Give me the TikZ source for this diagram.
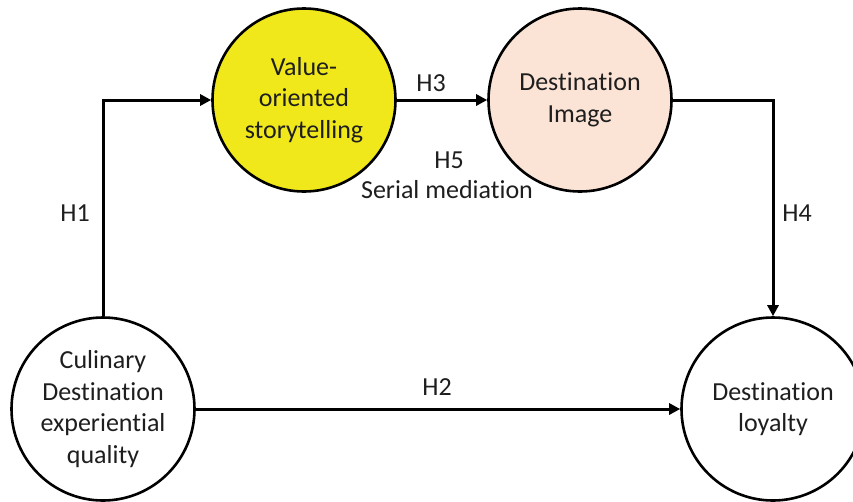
\documentclass[tikz,border=0pt]{standalone}
\usepackage{fontspec}
\setmainfont{Carlito}[Ligatures=NoCommon]
\usetikzlibrary{arrows.meta}
\definecolor{vyellow}{RGB}{240,232,26}
\definecolor{peach}{RGB}{251,228,214}
\definecolor{txt}{RGB}{30,30,30}
\begin{document}
\begin{tikzpicture}[x=1pt,y=-1pt,
  construct/.style={circle,draw=black,line width=2.6pt,minimum size=183pt,inner sep=0pt,
    align=center,text=txt,font=\fontsize{26}{31.5}\selectfont},
  link/.style={draw=black,line width=3pt,-{Triangle[length=11pt,width=11pt]}},
  lab/.style={text=txt,font=\fontsize{26}{31.5}\selectfont,inner sep=0pt,align=center}]
\useasboundingbox (0,0) rectangle (853,501);
\node[construct,fill=white] (cul) at (103,409) {Culinary\\Destination\\experiential\\quality};
\node[construct,fill=white] (loy) at (773,409) {Destination\\loyalty};
\node[construct,fill=vyellow] (val) at (304,100) {Value-\\oriented\\storytelling};
\node[construct,fill=peach] (img) at (580,100) {Destination\\Image};
\draw[link] (cul.north) |- (val.west);
\draw[link] (val.east) -- (img.west);
\draw[link] (img.east) -| (loy.north);
\draw[link] (cul.east) -- (loy.west);
\node[lab] (h1) at (75,213) {H1};
\node[lab] (h3) at (431,83) {H3};
\node[lab] (h5) at (449,160) {H5};
\node[lab] (sm) at (447,190) {Serial mediation};
\node[lab] (h4) at (797,213) {H4};
\node[lab] (h2) at (437,387) {H2};
\end{tikzpicture}
\end{document}
